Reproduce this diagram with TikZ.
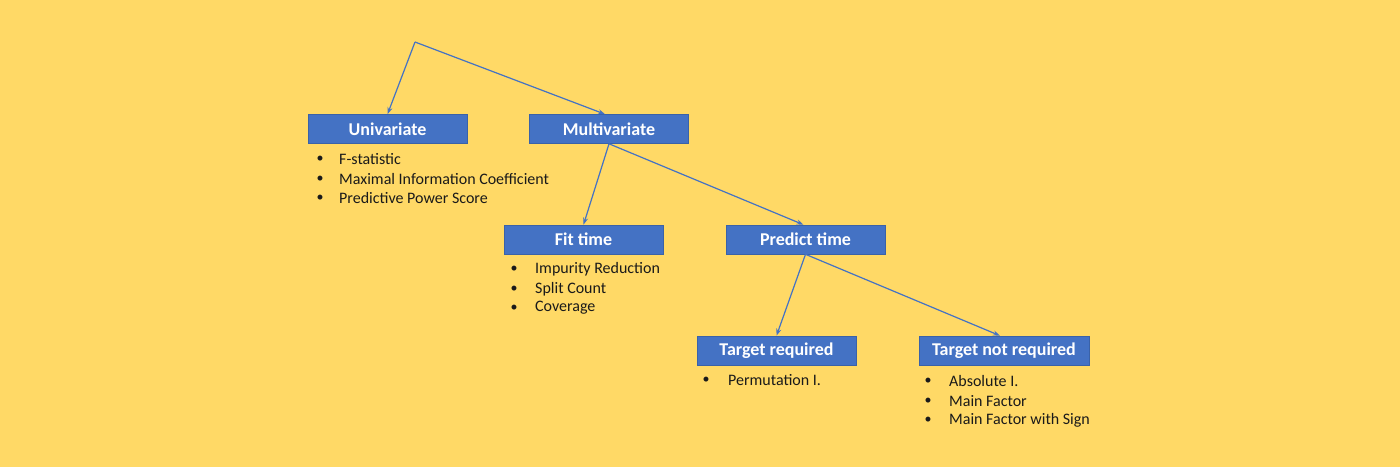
\documentclass[tikz,border=0pt]{standalone}
\usepackage{fontspec}
\setmainfont{Carlito}
\usetikzlibrary{arrows.meta}
\definecolor{bgy}{HTML}{FFD966}
\definecolor{boxb}{HTML}{4472C4}
\definecolor{boxe}{HTML}{3A62A8}
\definecolor{txt}{HTML}{1A1A1A}
\tikzset{
  box/.style={rectangle, fill=boxb, draw=boxe, line width=0.6pt, minimum width=159pt, minimum height=29pt, inner sep=0pt, text=white, font=\fontsize{18}{20}\selectfont\bfseries},
  conn/.style={draw=boxb, line width=1.2pt, -{Stealth[length=7pt,width=5pt]}},
  bul/.style={anchor=center, inner sep=0pt, text=txt, font=\fontsize{14}{16}\selectfont},
  item/.style={anchor=west, inner sep=0pt, text=txt, font=\fontsize{16}{18}\selectfont}
}
\begin{document}
\begin{tikzpicture}[x=1pt,y=-1pt]
\fill[bgy] (0,0) rectangle (1400,467);
\useasboundingbox (0,0) rectangle (1400,467);
\coordinate (root) at (415,42);
\node[box] (uni) at (387.5,129) {Univariate};
\node[box] (multi) at (609,129) {Multivariate};
\node[box] (fit) at (583.5,239.5) {Fit time};
\node[box] (pred) at (805.5,239.5) {Predict time};
\node[box] (treq) at (776.5,350.5) {Target required};
\node[box, minimum width=170pt] (tnreq) at (1004,350.5) {Target not required};
% connectors
\draw[conn] (root) -- (uni.north);
\draw[conn] (root) -- ([xshift=-4pt]multi.north);
\draw[conn] (multi.south) -- (fit.north);
\draw[conn] (multi.south) -- ([xshift=-2pt]pred.north);
\draw[conn] (pred.south) -- (treq.north);
\draw[conn] (pred.south) -- ([xshift=-4pt]tnreq.north);
% univariate list
\node[bul] (ub1) at (320,159) {•};
\node[item] (u1) at (339,159) {F-statistic};
\node[bul] (ub2) at (320,179) {•};
\node[item] (u2) at (339,179) {Maximal Information Coefficient};
\node[bul] (ub3) at (320,198) {•};
\node[item] (u3) at (339,198) {Predictive Power Score};
% fit time list
\node[bul] (fb1) at (514,269) {•};
\node[item] (f1) at (535,269) {Impurity Reduction};
\node[bul] (fb2) at (514,289) {•};
\node[item] (f2) at (535,289) {Split Count};
\node[bul] (fb3) at (514,308) {•};
\node[item] (f3) at (535,308) {Coverage};
% target required list
\node[bul] (rb1) at (706,380) {•};
\node[item] (r1) at (728,380) {Permutation I.};
% target not required list
\node[bul] (nb1) at (928,381) {•};
\node[item] (n1) at (949,381) {Absolute I.};
\node[bul] (nb2) at (928,401) {•};
\node[item] (n2) at (949,401) {Main Factor};
\node[bul] (nb3) at (928,420) {•};
\node[item] (n3) at (949,420) {Main Factor with Sign};
\end{tikzpicture}
\end{document}
